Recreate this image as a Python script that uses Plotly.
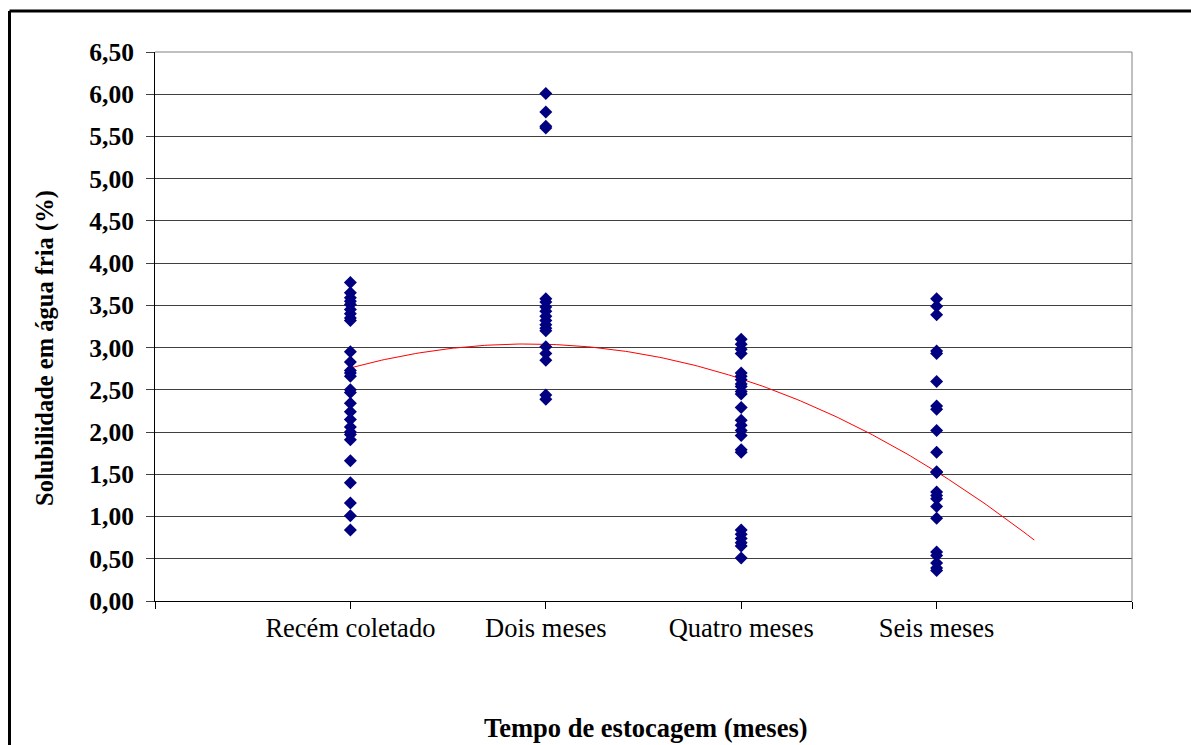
import plotly.graph_objects as go
import numpy as np

# Storage-time groups and cold-water solubility readings (%)
categories = ["Recém coletado", "Dois meses", "Quatro meses", "Seis meses"]

recem_coletado = [3.77, 3.65, 3.59, 3.55, 3.51, 3.45, 3.40, 3.35, 3.32,
                  2.95, 2.83, 2.73, 2.70, 2.66, 2.50, 2.47, 2.34, 2.24,
                  2.15, 2.06, 2.00, 1.97, 1.91, 1.66, 1.40, 1.16, 1.01, 0.84]
dois_meses = [6.01, 5.79, 5.62, 5.60, 3.58, 3.54, 3.48, 3.43, 3.37, 3.32,
              3.27, 3.23, 3.20, 3.01, 2.93, 2.85, 2.44, 2.39]
quatro_meses = [3.10, 3.04, 2.98, 2.93, 2.70, 2.66, 2.62, 2.57, 2.54, 2.48,
                2.45, 2.29, 2.14, 2.08, 2.02, 1.96, 1.79, 1.76, 0.84, 0.79,
                0.74, 0.69, 0.65, 0.51]
seis_meses = [3.58, 3.49, 3.39, 2.96, 2.93, 2.60, 2.31, 2.27, 2.02, 1.76,
              1.53, 1.52, 1.29, 1.25, 1.21, 1.12, 0.98, 0.58, 0.54, 0.45,
              0.39, 0.36]

# Second-order polynomial trend (a*x^2 + b*x + c) and its x extent
trend_coeffs = [-0.345, 1.315, 1.79]
trend_x_range = [1.0, 4.5]

y_ticks = [i * 0.5 for i in range(14)]

groups = [recem_coletado, dois_meses, quatro_meses, seis_meses]
xs, ys = [], []
for pos, vals in enumerate(groups, start=1):
    xs += [pos] * len(vals)
    ys += vals

fig = go.Figure()

tx = np.linspace(trend_x_range[0], trend_x_range[1], 200)
ty = np.polyval(trend_coeffs, tx)
fig.add_trace(go.Scatter(x=tx, y=ty, mode="lines",
                         line=dict(color="#FF0000", width=1),
                         hoverinfo="skip", showlegend=False))

fig.add_trace(go.Scatter(x=xs, y=ys, mode="markers",
                         marker=dict(symbol="diamond", size=10, color="#000080",
                                     line=dict(width=0)),
                         showlegend=False))

L, T, W, H = 155, 52, 1191, 745
R, B = 1132, 601
pw, ph = R - L, B - T

def px_x(x):
    return (x - L) / pw

def px_y(y):
    return (B - y) / ph

SERIF = "Liberation Serif, Times New Roman, serif"

fig.update_layout(
    width=W, height=H,
    margin=dict(l=L, r=W - R, t=T, b=H - B, pad=0),
    paper_bgcolor="white", plot_bgcolor="white",
    separators=",.",
    font=dict(family=SERIF, color="black"),
    xaxis=dict(
        range=[0, 5], tickmode="array",
        tickvals=[0, 1, 2, 3, 4, 5],
        ticktext=[""] + categories + [""],
        ticks="outside", ticklen=7, tickcolor="black", tickwidth=1,
        ticklabelstandoff=-4,
        showgrid=False, zeroline=False,
        showline=True, linecolor="black", linewidth=1,
        tickfont=dict(size=26.5, color="black", family=SERIF),
        fixedrange=True,
    ),
    yaxis=dict(
        range=[0, 6.5], tickmode="array", tickvals=y_ticks,
        ticktext=[f"<b>{v:.2f}</b>".replace(".", ",") for v in y_ticks],
        ticks="outside", ticklen=8, tickcolor="#404040", tickwidth=1,
        ticklabelstandoff=7,
        showgrid=True, gridcolor="#404040", gridwidth=1,
        zeroline=False,
        showline=True, linecolor="black", linewidth=1,
        tickfont=dict(size=25.5, color="black", family=SERIF),
        fixedrange=True,
    ),
    shapes=[
        # plot-area right border
        dict(type="line", xref="paper", yref="paper", x0=1, x1=1, y0=0, y1=1,
             line=dict(color="#808080", width=1)),
        # top gridline at 6,50
        dict(type="line", xref="paper", yref="paper", x0=0, x1=1, y0=1, y1=1,
             line=dict(color="#808080", width=1)),
        # chart frame (left and top edges)
        dict(type="line", xref="paper", yref="paper",
             x0=px_x(9.5), x1=px_x(9.5), y0=px_y(760), y1=px_y(11),
             line=dict(color="black", width=3)),
        dict(type="line", xref="paper", yref="paper",
             x0=px_x(9.5), x1=px_x(1200), y0=px_y(11), y1=px_y(11),
             line=dict(color="black", width=3)),
    ],
    annotations=[
        dict(text="<b>Tempo de estocagem (meses)</b>", xref="paper", yref="paper",
             x=px_x(646), y=px_y(728), showarrow=False,
             font=dict(size=26.5, color="black", family=SERIF),
             xanchor="center", yanchor="middle"),
        dict(text="<b>Solubilidade em água fria (%)</b>", xref="paper", yref="paper",
             x=px_x(45), y=px_y(348), showarrow=False, textangle=-90,
             font=dict(size=24.5, color="black", family=SERIF),
             xanchor="center", yanchor="middle"),
    ],
)

fig.write_html("out.html")
